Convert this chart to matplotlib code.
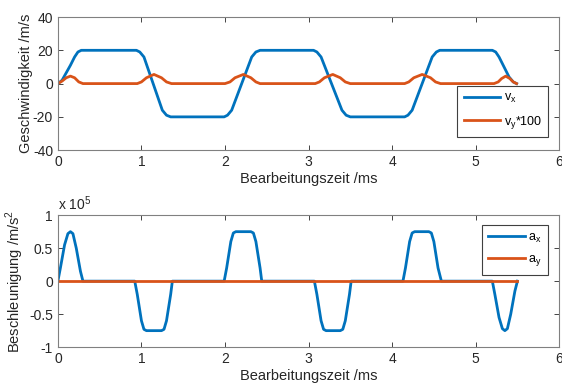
import matplotlib.pyplot as plt

plt.rcParams['font.family'] = ['Liberation Sans', 'DejaVu Sans']
plt.rcParams['axes.unicode_minus'] = False

# velocity (time in ms)
t_vx = [0, 0.05, 0.1, 0.15, 0.2, 0.24, 0.28,
        0.94, 0.98, 1.03, 1.25, 1.30, 1.35,
        1.99, 2.03, 2.08, 2.32, 2.37, 2.42,
        3.06, 3.10, 3.15, 3.40, 3.45, 3.50,
        4.15, 4.19, 4.24, 4.48, 4.53, 4.57,
        5.20, 5.24, 5.28, 5.40, 5.45, 5.49]
vx = [0, 2, 6.5, 11, 16, 19, 20,
      20, 19, 16, -16, -19, -20,
      -20, -19, -16, 16, 19, 20,
      20, 19, 16, -16, -19, -20,
      -20, -19, -16, 16, 19, 20,
      20, 19, 16, 4, 1, 0]

t_vy = [0, 0.05, 0.1, 0.15, 0.2, 0.25, 0.3,
        0.95, 1.0, 1.06, 1.15, 1.24, 1.3, 1.36,
        2.0, 2.06, 2.12, 2.22, 2.31, 2.37, 2.42,
        3.08, 3.13, 3.19, 3.29, 3.38, 3.44, 3.5,
        4.15, 4.2, 4.26, 4.36, 4.46, 4.52, 4.58,
        5.22, 5.27, 5.31, 5.36, 5.41, 5.45, 5.49]
vy100 = [0, 1.5, 3.5, 4.5, 3.5, 1, 0,
         0, 1, 3.5, 5.5, 3.5, 1, 0,
         0, 1, 3.5, 5.5, 3.5, 1, 0,
         0, 1, 3.5, 5.5, 3.5, 1, 0,
         0, 1, 3.5, 5.5, 3.5, 1, 0,
         0, 1, 3, 4.5, 3, 1, 0]

# acceleration
t_ax = [0, 0.03, 0.08, 0.12, 0.15, 0.18, 0.22, 0.27, 0.30,
        0.92, 0.95, 1.0, 1.03, 1.06, 1.24, 1.27, 1.30, 1.35, 1.37,
        1.99, 2.02, 2.07, 2.10, 2.13, 2.31, 2.34, 2.37, 2.42, 2.44,
        3.07, 3.10, 3.15, 3.18, 3.21, 3.38, 3.41, 3.44, 3.49, 3.51,
        4.13, 4.16, 4.21, 4.24, 4.27, 4.44, 4.47, 4.50, 4.55, 4.59,
        5.20, 5.23, 5.28, 5.32, 5.35, 5.38, 5.42, 5.47, 5.50]
ax_vals = [0, 0.2e5, 0.55e5, 0.72e5, 0.75e5, 0.72e5, 0.5e5, 0.15e5, 0,
           0, -0.2e5, -0.6e5, -0.73e5, -0.75e5, -0.75e5, -0.73e5, -0.6e5, -0.2e5, 0,
           0, 0.2e5, 0.6e5, 0.73e5, 0.75e5, 0.75e5, 0.73e5, 0.6e5, 0.2e5, 0,
           0, -0.2e5, -0.6e5, -0.73e5, -0.75e5, -0.75e5, -0.73e5, -0.6e5, -0.2e5, 0,
           0, 0.2e5, 0.6e5, 0.73e5, 0.75e5, 0.75e5, 0.73e5, 0.6e5, 0.2e5, 0,
           0, -0.2e5, -0.55e5, -0.72e5, -0.75e5, -0.72e5, -0.5e5, -0.15e5, 0]
t_ay = [0, 5.5]
ay_vals = [0, 0]

blue = '#0072BD'
orange = '#D95319'
grey = '#262626'

fig = plt.figure(figsize=(5.62, 3.87), dpi=100)
ax1 = fig.add_axes([0.103, 0.612, 0.892, 0.344])
ax2 = fig.add_axes([0.103, 0.103, 0.892, 0.341])


def style(ax):
    ax.tick_params(direction='in', top=True, right=True, colors=grey,
                   labelsize=10, length=3.5, width=0.6)
    for s in ax.spines.values():
        s.set_color('#808080')
        s.set_linewidth(0.8)
    ax.set_xlim(0, 6)
    ax.set_xticks(range(7))
    ax.set_xlabel('Bearbeitungszeit /ms', fontsize=10.5, color=grey, labelpad=2)


leg_kw = dict(fontsize=9, fancybox=False, edgecolor='#404040', framealpha=1,
              handlelength=2.9, handletextpad=0.3, borderpad=0.5,
              labelspacing=0.7, borderaxespad=0)

ax1.plot(t_vx, vx, color=blue, lw=2, label=r'v$_\mathregular{x}$')
ax1.plot(t_vy, vy100, color=orange, lw=2, label=r'v$_\mathregular{y}$*100')
ax1.set_ylim(-40, 40)
ax1.set_yticks([-40, -20, 0, 20, 40])
ax1.set_ylabel('Geschwindigkeit /m/s', fontsize=10.5, color=grey, labelpad=0)
style(ax1)
leg1 = ax1.legend(loc='lower right', bbox_to_anchor=(0.978, 0.098), **leg_kw)
leg1.get_frame().set_linewidth(0.8)

ax2.plot(t_ax, ax_vals, color=blue, lw=2, label=r'a$_\mathregular{x}$')
ax2.plot(t_ay, ay_vals, color=orange, lw=2, label=r'a$_\mathregular{y}$')
ax2.set_ylim(-1e5, 1e5)
ax2.set_yticks([-1e5, -0.5e5, 0, 0.5e5, 1e5])
ax2.set_yticklabels(['-1', '-0.5', '0', '0.5', '1'])
ax2.text(0, 1.02, r'x 10$^\mathregular{5}$', transform=ax2.transAxes,
         fontsize=10, color=grey, va='bottom')
ax2.set_ylabel(r'Beschleunigung /m/s$^\mathregular{2}$', fontsize=10.5,
               color=grey, labelpad=2)
style(ax2)
leg2 = ax2.legend(loc='upper right', bbox_to_anchor=(0.978, 0.924), **leg_kw)
leg2.get_frame().set_linewidth(0.8)

fig.savefig('out.png', dpi=100)
